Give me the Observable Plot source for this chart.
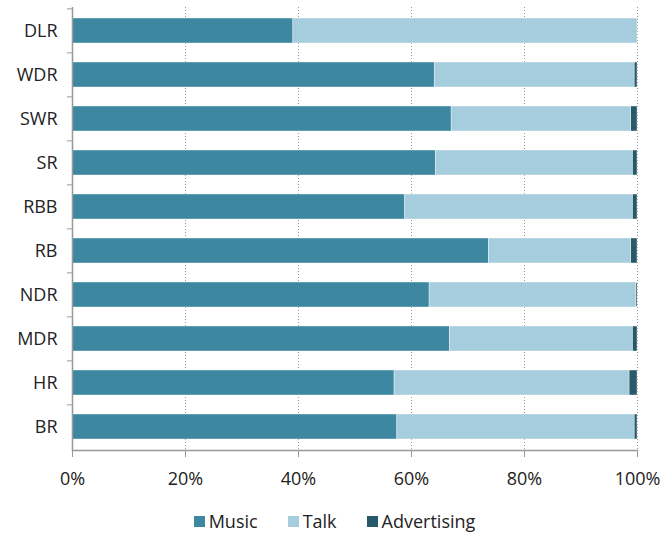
<!DOCTYPE html>
<html>
<head>
<meta charset="utf-8">
<script src="https://cdn.jsdelivr.net/npm/d3@7"></script>
<script src="https://cdn.jsdelivr.net/npm/@observablehq/plot@0.6"></script>
<style>
  body { margin: 0; background: #fff; font-family: "Open Sans", sans-serif; }
  #legend { display: flex; justify-content: center; align-items: center; gap: 30px; font-size: 18px; color: #222; margin-top: 14px; padding-left: 8px; }
  #legend span.item { display: flex; align-items: center; }
  #legend span.sw { display: inline-block; width: 11px; height: 11px; margin-right: 4px; }
</style>
</head>
<body>
<div id="chart"></div>
<div id="legend"></div>
<script>
const stations = ["DLR", "WDR", "SWR", "SR", "RBB", "RB", "NDR", "MDR", "HR", "BR"];
const music =       [39.1, 64.1, 67.1, 64.3, 58.9, 73.7, 63.2, 66.8, 57.0, 57.5];
const advertising = [0.0,  0.5,  1.1,  0.8,  0.8,  1.1,  0.2,  0.8,  1.4,  0.5];
const talk = stations.map((s, i) => +(100 - music[i] - advertising[i]).toFixed(1));
const series = ["Music", "Talk", "Advertising"];
const colors = ["#3d87a0", "#a6cddd", "#28596b"];
const tickValues = [0, 20, 40, 60, 80, 100];

const values = {Music: music, Talk: talk, Advertising: advertising};
const data = [];
stations.forEach((s, i) => {
  series.forEach(k => data.push({station: s, type: k, value: values[k][i]}));
});

const chart = Plot.plot({
  width: 661,
  height: 495,
  marginLeft: 72,
  marginRight: 24,
  marginTop: 7,
  marginBottom: 45,
  style: {fontFamily: "Open Sans, sans-serif", fontSize: "18px", color: "#222"},
  x: {domain: [0, 100], ticks: tickValues, tickFormat: d => d + "%", label: null},
  y: {domain: stations, paddingInner: 0.43, paddingOuter: 0.215, label: null},
  color: {domain: series, range: colors},
  marks: [
    Plot.gridX(tickValues.slice(1), {stroke: "#999", strokeOpacity: 1, strokeDasharray: "1,2"}),
    Plot.barX(data, {x: "value", y: "station", fill: "type", order: null, stroke: "#fff", strokeWidth: 0.4}),
    Plot.ruleX([0], {stroke: "#999", strokeWidth: 1.5}),
    Plot.frame({anchor: "bottom", stroke: "#999", strokeWidth: 1.5}),
    Plot.axisX({ticks: tickValues, tickSize: 7, tickPadding: 15, stroke: "#999", tickFormat: d => d + "%", fill: "#222", label: null}),
    Plot.axisY({tickSize: 5, tickFormat: () => "", dy: -22.15, stroke: "#999", label: null}),
    Plot.axisY({tickSize: 0, tickPadding: 15, fill: "#222", label: null})
  ]
});
document.getElementById("chart").appendChild(chart);

const legend = d3.select("#legend");
series.forEach((s, i) => {
  const it = legend.append("span").attr("class", "item");
  it.append("span").attr("class", "sw").style("background", colors[i]);
  it.append("span").text(s);
});
</script>
</body>
</html>
